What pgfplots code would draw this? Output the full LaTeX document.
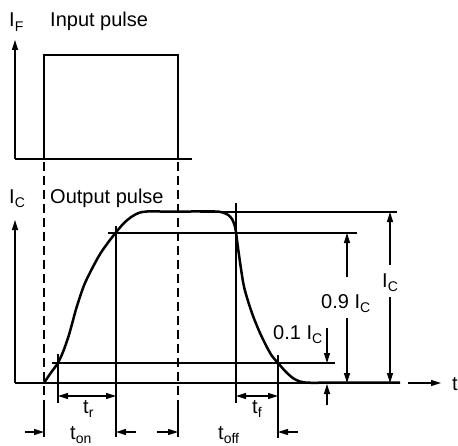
\documentclass[border=0pt]{standalone}
\usepackage{fontspec}
\setmainfont{Liberation Sans}
\usepackage{pgfplots}
\pgfplotsset{compat=1.18}
\usetikzlibrary{arrows.meta}
\newcommand\sub[1]{\raisebox{-0.22em}{\fontsize{14bp}{14bp}\selectfont #1}}
\begin{document}
\begin{tikzpicture}[
  tip/.style={-{Triangle[length=10bp,width=6bp]}},
  dtip/.style={{Triangle[length=10bp,width=6bp]}-{Triangle[length=10bp,width=6bp]}},
  lab/.style={anchor=base west,inner sep=0pt,font=\fontsize{20bp}{24bp}\selectfont}]
\begin{axis}[width=458bp,height=446bp,scale only axis,hide axis,
  xmin=0,xmax=458,ymin=0,ymax=446,y dir=reverse,clip=false]
\coordinate (bl) at (axis cs:0,446);
\coordinate (tr) at (axis cs:458,0);
% input axis
\addplot[black,line width=1.3bp,tip] coordinates {(15,159) (15,40)};
\addplot[black,line width=1.3bp] coordinates {(15,159) (192,159)};
% input pulse
\addplot[black,line width=2.5bp,line join=miter] coordinates {(44,159) (44,55) (178,55) (178,159)};
% dashed guides
\addplot[black,line width=1.2bp,dash pattern=on 9bp off 5bp] coordinates {(44,162) (44,400)};
\addplot[black,line width=1.2bp] coordinates {(44,400) (44,437)};
\addplot[black,line width=1.2bp,dash pattern=on 9bp off 5bp] coordinates {(178,162) (178,400)};
\addplot[black,line width=1.2bp] coordinates {(178,400) (178,437)};
% output axis
\addplot[black,line width=1.3bp,tip] coordinates {(15,383) (15,220)};
\addplot[black,line width=1.3bp] coordinates {(15,383) (310,383)};
\addplot[black,line width=1.3bp,tip] coordinates {(408,383) (441,383)};
% reference lines
\addplot[black,line width=1.2bp] coordinates {(200,212) (397,212)};
\addplot[black,line width=1.2bp] coordinates {(108,233) (357,233)};
\addplot[black,line width=1.2bp] coordinates {(52,363) (335,363)};
\addplot[black,line width=1.2bp] coordinates {(58,354) (58,403)};
\addplot[black,line width=1.2bp] coordinates {(116,226) (116,437)};
\addplot[black,line width=1.2bp] coordinates {(236,203) (236,403)};
\addplot[black,line width=1.2bp] coordinates {(278,355) (278,438)};
% output pulse
\addplot[black,line width=2.5bp,smooth] coordinates {
(44,383) (50,374) (57.7,363.3) (63,352) (68.3,337) (72.3,323) (76.7,307)
(85,283) (98.3,257) (107,244) (116,232.3) (124,223) (131.7,216.7) (139,212.8)
(147,211.5) (160,211.5) (190,211.5) (215,211.5) (222,212.3) (228.3,215) (232,219)
(234.5,225) (236,232.3) (238.3,250) (243.3,283.3) (248,301) (253.3,316.7)
(260,333) (266.7,346.7) (272,356) (278.3,363.3) (286,372) (293.3,378.3)
(300,381.5) (308.3,382.7) (330,382.7) (400,382.7)};
% time arrows
\addplot[black,line width=1.2bp,dtip] coordinates {(58,396) (116,396)};
\addplot[black,line width=1.2bp,dtip] coordinates {(236,396) (278,396)};
\addplot[black,line width=1.2bp,tip] coordinates {(25,432) (44,432)};
\addplot[black,line width=1.2bp,tip] coordinates {(136,432) (116,432)};
\addplot[black,line width=1.2bp,tip] coordinates {(157,432) (178,432)};
\addplot[black,line width=1.2bp,tip] coordinates {(298,432) (278,432)};
% amplitude arrows
\addplot[black,line width=1.2bp,tip] coordinates {(390,265) (390,212)};
\addplot[black,line width=1.2bp,tip] coordinates {(390,297) (390,383)};
\addplot[black,line width=1.2bp,tip] coordinates {(347,277) (347,233)};
\addplot[black,line width=1.2bp,tip] coordinates {(347,318) (347,383)};
\addplot[black,line width=1.2bp,tip] coordinates {(327,328) (327,363)};
\addplot[black,line width=1.2bp,tip] coordinates {(327,405) (327,384)};
% labels
\node[lab] at (axis cs:9,27) {I\sub{F}};
\node[lab] at (axis cs:50,27) {Input pulse};
\node[lab] at (axis cs:9,203) {I\sub{C}};
\node[lab] at (axis cs:50,203) {Output pulse};
\node[lab] at (axis cs:452,390) {t};
\node[lab] at (axis cs:382,287) {I\sub{C}};
\node[lab] at (axis cs:321,308) {0.9 I\sub{C}};
\node[lab] at (axis cs:273,339) {0.1 I\sub{C}};
\node[lab] at (axis cs:83,413) {t\sub{r}};
\node[lab] at (axis cs:252,413) {t\sub{f}};
\node[lab] at (axis cs:70,439) {t\sub{on}};
\node[lab] at (axis cs:218,439) {t\sub{off}};
\end{axis}
\pgfresetboundingbox
\useasboundingbox (bl) rectangle (tr);
\end{tikzpicture}
\end{document}
